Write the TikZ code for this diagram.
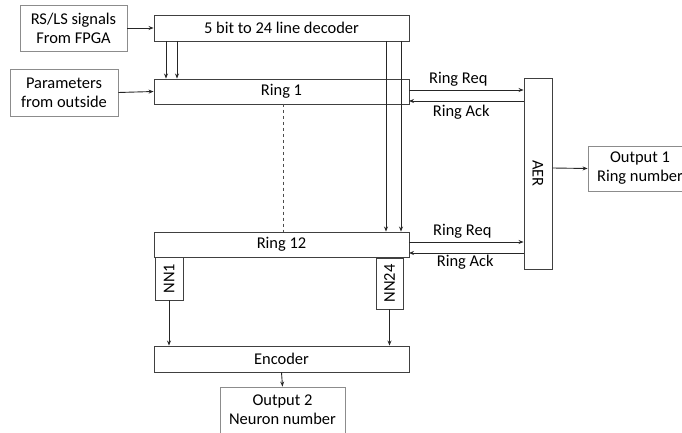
\documentclass[tikz,border=0pt]{standalone}
\usepackage{fontspec}
\setmainfont{Carlito}
\usetikzlibrary{arrows.meta}
\begin{document}
\begin{tikzpicture}[x=1bp,y=-1bp,
  blk/.style={draw=black!75,line width=0.9bp,inner sep=0pt},
  io/.style={draw=black!45,line width=0.9bp,inner sep=0pt,align=center},
  conn/.style={line width=0.9bp,draw=black!85,-{Stealth[length=5bp,width=4bp]}},
  lbl/.style={font=\fontsize{16.5}{19}\selectfont},
  every node/.style={font=\fontsize{16.5}{19}\selectfont}]
\useasboundingbox (0,0) rectangle (682,433);
\clip (0,0) rectangle (682,433);
% boxes
\node[io,minimum width=107bp,minimum height=46bp] (rs) at (73.5,28) {RS/LS signals\\From FPGA};
\node[io,minimum width=108bp,minimum height=47bp] (par) at (64,92.5) {Parameters\\from outside};
\node[blk,minimum width=255bp,minimum height=26bp] (dec) at (281.5,28) {5 bit to 24 line decoder};
\node[blk,minimum width=255bp,minimum height=25bp] (r1) at (281.5,91.5) {Ring 1};
\node[blk,minimum width=255bp,minimum height=25bp] (r12) at (281.5,244.5) {Ring 12};
\node[blk,minimum width=28bp,minimum height=191bp] (aer) at (538,173.5) {};
\node[rotate=-90] at (aer.center) {AER};
\node[io,minimum width=104bp,minimum height=45bp] (o1) at (640,168.5) {Output 1\\Ring number};
\node[blk,minimum width=28bp,minimum height=43bp] (nn1) at (169,278.5) {};
\node[rotate=90] at (nn1.center) {NN1};
\node[blk,minimum width=27bp,minimum height=51bp] (nn24) at (389.5,283.5) {};
\node[rotate=90] at (nn24.center) {NN24};
\node[blk,minimum width=255bp,minimum height=26bp] (enc) at (281.5,359) {Encoder};
\node[io,minimum width=125bp,minimum height=46bp] (o2) at (282.5,410) {Output 2\\Neuron number};
% coordinates
\coordinate (d1) at (166,41);
\coordinate (d2) at (177,41);
\coordinate (d3) at (386,41);
\coordinate (d4) at (401,41);
% connectors
\draw[conn] (rs.east) -- (dec.west);
\draw[conn] (par.east) -- (r1.west);
\draw[conn] (d1) -- (d1 |- r1.north);
\draw[conn] (d2) -- (d2 |- r1.north);
\draw[conn] (d3) -- (d3 |- r12.north);
\draw[conn] (d4) -- (d4 |- r12.north);
\draw[line width=0.9bp,dashed,draw=black!70] (283,104) -- (283,232);
\draw[conn] (409,90) -- node[lbl,above=0bp,xshift=-8bp] {Ring Req} (aer.west |- 0,90);
\draw[conn] (aer.west |- 0,101) -- node[lbl,below=0bp,xshift=-5bp] {Ring Ack} (409,101);
\draw[conn] (409,242) -- node[lbl,above=0bp,xshift=-4bp] {Ring Req} (aer.west |- 0,242);
\draw[conn] (aer.west |- 0,253) -- node[lbl,below=-2bp,xshift=-1bp] {Ring Ack} (409,253);
\draw[conn] (aer.east |- 0,168) -- (o1.west);
\draw[conn] (nn1.south) -- (nn1.south |- enc.north);
\draw[conn] (nn24.south) -- (nn24.south |- enc.north);
\draw[conn] (enc.south) -- (o2.north);
\end{tikzpicture}
\end{document}
